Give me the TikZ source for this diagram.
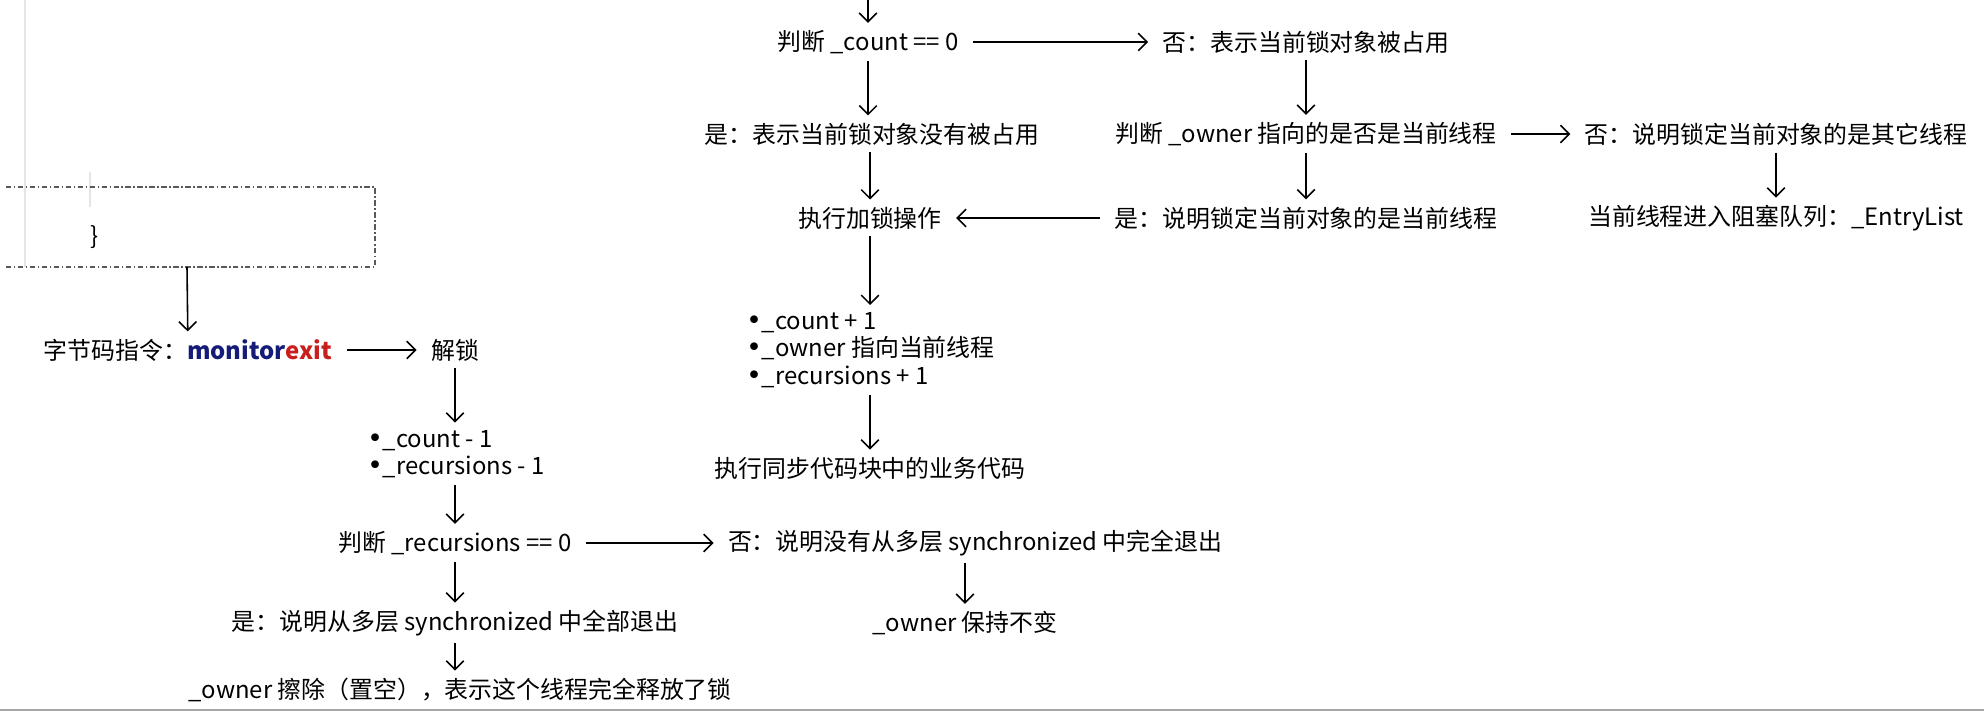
\documentclass[tikz,border=0pt]{standalone}
\usepackage{fontspec}
\newfontfamily\cjk{Noto Sans CJK SC}
\newfontfamily\dotfont{DejaVu Sans}
\usepackage{xcolor}
\usetikzlibrary{arrows.meta,positioning}
\definecolor{monitorblue}{RGB}{20,28,120}
\definecolor{exitred}{RGB}{200,30,30}
\newcommand{\dotitem}{{\dotfont\fontsize{15}{15.6}\selectfont •}}

\begin{document}
\begin{tikzpicture}[
    txt/.style={font=\cjk\fontsize{13.6}{15.6}\selectfont, inner xsep=8pt, inner ysep=4pt},
    list/.style={txt, align=left, anchor=west},
    flow/.style={-{Straight Barb[length=5pt,width=10pt]}, line width=0.9pt},
    codebox/.style={black!65, line width=0.8pt, dash pattern=on 3pt off 1.5pt on 0.8pt off 1.5pt},
    guide/.style={black!10, line width=0.8pt}
]
\useasboundingbox (0,0) rectangle (39.68,14.24);

% Lock - right part
\coordinate (in) at (17.36,14.24);
\node[txt] (count) at (17.36,13.40) {判断 \_count == 0};
\node[txt] (busy) at (26.12,13.40) {否：表示当前锁对象被占用};
\node[txt] (free) at (17.44,11.56) {是：表示当前锁对象没有被占用};
\node[txt] (ownerq) at (26.12,11.56) {判断 \_owner 指向的是否是当前线程};
\node[txt] (other) at (35.52,11.56) {否：说明锁定当前对象的是其它线程};
\node[txt] (lock) at (17.4,9.88) {执行加锁操作};
\node[txt] (same) at (26.12,9.88) {是：说明锁定当前对象的是当前线程};
\node[txt] (queue) at (35.52,9.88) {当前线程进入阻塞队列：\_EntryList};
\node[list] (incr) at (14.64,7.24) {\dotitem\_count + 1\\\dotitem\_owner 指向当前线程\\\dotitem\_recursions + 1};
\node[txt] (run) at (17.4,4.88) {执行同步代码块中的业务代码};

\draw[flow] (in) -- (count);
\draw[flow] (count) -- (busy);
\draw[flow] (count) -- (count |- free.north);
\draw[flow] (busy) -- (ownerq);
\draw[flow] (ownerq) -- (other);
\draw[flow] (lock |- free.south) -- (lock);
\draw[flow] (ownerq) -- (same);
\draw[flow] (other) -- (queue);
\draw[flow] (same) -- (lock);
\draw[flow] (lock) -- (lock |- incr.north);
\draw[flow] (lock |- incr.south) -- (run);

% Code block (cut off on the left)
\draw[guide] (0.5,14.24) -- (0.5,8.9);
\draw[guide] (1.8,10.8) -- (1.8,10.1);
\draw[codebox] (0.12,10.5) -- (7.5,10.5) -- (7.5,8.9) -- (0.12,8.9);
\node[txt] (brace) at (1.9,9.5) {\}};
\coordinate (boxout) at (3.74,8.9);

% Unlock - left part
\node[txt] (bytecode) at (3.76,7.24) {字节码指令：{\bfseries\color{monitorblue}monitor}{\bfseries\color{exitred}exit}};
\node[txt] (unlock) at (9.1,7.24) {解锁};
\node[list] (decr) at (7.06,5.16) {\dotitem\_count - 1\\\dotitem\_recursions - 1};
\node[txt] (recq) at (9.1,3.38) {判断 \_recursions == 0};
\node[txt] (nested) at (19.5,3.38) {否：说明没有从多层 synchronized 中完全退出};
\node[txt] (allout) at (9.1,1.78) {是：说明从多层 synchronized 中全部退出};
\node[txt] (keep) at (19.3,1.78) {\_owner 保持不变};
\node[txt] (release) at (9.2,0.44) {\_owner 擦除（置空），表示这个线程完全释放了锁};

\draw[flow] (boxout) -- (bytecode);
\draw[flow] (bytecode) -- (unlock);
\draw[flow] (unlock) -- (unlock |- decr.north);
\draw[flow] (unlock |- decr.south) -- (recq);
\draw[flow] (recq) -- (nested);
\draw[flow] (recq) -- (allout);
\draw[flow] (keep |- nested.south) -- (keep);
\draw[flow] (allout) -- (allout |- release.north);

% bottom edge
\draw[black!35, line width=1.5pt] (0,0.04) -- (39.68,0.04);

\end{tikzpicture}
\end{document}
